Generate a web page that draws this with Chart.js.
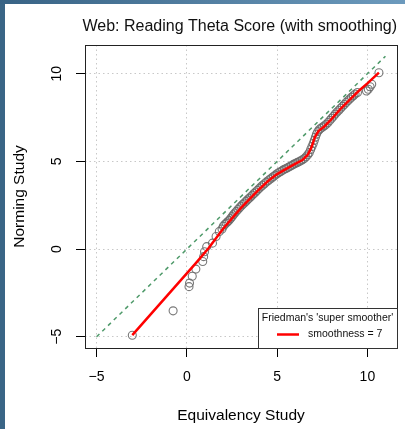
<!DOCTYPE html>
<html><head><meta charset="utf-8">
<script src="https://cdn.jsdelivr.net/npm/chart.js@4"></script>
<style>
html,body{margin:0;padding:0;background:#fff;}
#wrap{position:relative;width:405px;height:429px;overflow:hidden;background:#fff;}
#lstrip{position:absolute;left:0;top:0;width:5px;height:429px;background:#3a6586;}
#tstrip{position:absolute;left:0;top:0;width:405px;height:4px;background:linear-gradient(to right,#386385,#6c9abd);}
canvas{position:absolute;left:0;top:0;}
</style></head>
<body><div id="wrap"><div id="lstrip"></div><div id="tstrip"></div><canvas id="c" width="405" height="429"></canvas></div>
<script>
const chartTitle = 'Web: Reading Theta Score (with smoothing)';
const xAxisTitle = 'Equivalency Study';
const yAxisTitle = 'Norming Study';
const legendTitle = "Friedman's 'super smoother'";
const smoothLabel = 'smoothness = 7';
const axisMin = -5.64, axisMax = 11.64;
const xTicks = [-5, 0, 5, 10];
const yTicks = [-5, 0, 5, 10];
const xTickLabels = ['\u22125', '0', '5', '10'];
const yTickLabels = ['\u22125', '0', '5', '10'];

const equivX = [-3.02,-0.76,0.12,0.15,0.30,0.50,0.88,0.93,0.98,1.10,1.42,1.62,1.80,1.95,
2.02,2.10,2.18,2.26,2.34,2.42,2.50,2.58,2.66,2.74,2.83,2.92,3.00,3.09,3.18,3.27,3.36,3.45,3.54,3.63,3.72,3.81,3.90,
4.00,4.10,4.20,4.30,4.40,4.50,4.60,4.70,4.80,4.90,5.00,5.10,5.20,5.30,5.40,5.50,5.60,5.70,5.80,5.90,
6.00,6.10,6.20,6.30,6.40,6.50,6.60,6.70,6.78,6.86,6.93,7.00,7.06,7.12,7.18,7.25,7.33,7.42,7.52,7.62,7.72,7.82,7.92,
8.02,8.12,8.22,8.32,8.42,8.52,8.62,8.72,8.82,8.92,9.02,9.12,9.22,9.32,9.45,9.95,10.05,10.15,10.24,10.64];
const normingY = [-4.91,-3.52,-2.14,-1.94,-1.55,-1.14,-0.71,-0.43,-0.15,0.14,0.34,0.72,1.00,1.15,
1.30,1.40,1.48,1.56,1.64,1.74,1.85,1.96,2.06,2.15,2.26,2.36,2.45,2.54,2.63,2.72,2.81,2.90,2.99,3.08,3.17,3.26,3.35,
3.45,3.55,3.64,3.73,3.82,3.90,3.98,4.06,4.14,4.22,4.30,4.37,4.43,4.49,4.55,4.60,4.65,4.71,4.77,4.83,
4.88,4.93,4.98,5.03,5.09,5.16,5.26,5.38,5.50,5.68,5.85,6.02,6.20,6.38,6.55,6.70,6.81,6.89,6.96,7.03,7.12,7.22,7.34,
7.46,7.58,7.70,7.82,7.92,8.03,8.14,8.25,8.36,8.46,8.56,8.66,8.75,8.84,8.93,9.02,9.12,9.26,9.40,10.06];

const smoothX = [-3.02,0.50,1.20,2.00,2.50,3.00,3.50,4.00,4.50,5.00,5.50,6.00,6.40,6.70,6.90,7.10,7.30,7.60,8.00,8.50,9.00,9.50,10.00,10.64];
const smoothY = [-4.91,-0.80,0.05,1.15,1.75,2.35,2.88,3.40,3.88,4.28,4.58,4.86,5.08,5.38,5.80,6.40,6.75,6.98,7.40,7.98,8.50,9.00,9.45,10.06];

const refX = [-5, 11];
const refY = [-5, 11];

const FONT = '"Liberation Sans", Arial, Helvetica, sans-serif';
const toXY = (xs, ys) => xs.map((x, i) => ({x: x, y: ys[i]}));

const boxPlugin = {
  id: 'plotBox',
  beforeDatasetsDraw(chart) {
    const {ctx, chartArea: a} = chart;
    ctx.save();
    ctx.strokeStyle = '#222';
    ctx.lineWidth = 1;
    ctx.strokeRect(Math.round(a.left) + 0.5, Math.round(a.top) + 0.5, Math.round(a.right - a.left), Math.round(a.bottom - a.top));
    ctx.restore();
  }
};

const legendPlugin = {
  id: 'cornerLegend',
  afterDatasetsDraw(chart) {
    const {ctx, chartArea: a} = chart;
    const ds = chart.data.datasets[0];
    ctx.save();
    ctx.font = '10.5px ' + FONT;
    const w = 139, h = 40;
    const x0 = Math.round(a.right - w), y0 = Math.round(a.bottom - h);
    ctx.fillStyle = '#fff';
    ctx.fillRect(x0, y0, w, h);
    ctx.strokeStyle = '#333';
    ctx.lineWidth = 1;
    ctx.strokeRect(x0 + 0.5, y0 + 0.5, w, h);
    ctx.fillStyle = '#111';
    ctx.textBaseline = 'middle';
    ctx.textAlign = 'center';
    ctx.fillText(legendTitle, x0 + w / 2, y0 + 10.5);
    ctx.strokeStyle = ds.borderColor;
    ctx.lineWidth = ds.borderWidth;
    ctx.beginPath();
    ctx.moveTo(x0 + 19, y0 + 26.5);
    ctx.lineTo(x0 + 41, y0 + 26.5);
    ctx.stroke();
    ctx.textAlign = 'left';
    ctx.fillText(ds.label, x0 + 50, y0 + 26.5);
    ctx.restore();
  }
};

const tickFont = {family: FONT, size: 14, lineHeight: 1.2};
const axisTitleFont = {family: FONT, size: 15.5, lineHeight: 1.2};

new Chart(document.getElementById('c'), {
  type: 'scatter',
  data: {
    datasets: [
      {label: smoothLabel, data: toXY(smoothX, smoothY), showLine: true, borderColor: '#ff0000', borderWidth: 2.5, pointRadius: 0, fill: false, tension: 0},
      {label: 'identity', data: toXY(refX, refY), showLine: true, borderColor: '#4f9a6a', borderWidth: 1.5, borderDash: [4, 4], pointRadius: 0, fill: false},
      {label: 'quantiles', data: toXY(equivX, normingY), showLine: false, pointRadius: 4, pointBorderWidth: 1.1, pointBorderColor: 'rgba(105,105,105,0.9)', pointBackgroundColor: 'rgba(0,0,0,0)'}
    ]
  },
  options: {
    responsive: false, animation: false, devicePixelRatio: 1,
    layout: {padding: {left: 5, right: 8, top: 0, bottom: 0}},
    plugins: {
      legend: {display: false}, tooltip: {enabled: false},
      title: {display: true, text: chartTitle, align: 'end', color: '#111', font: {family: FONT, size: 16, weight: 'normal', lineHeight: 1.2}, padding: {top: 17.4, bottom: 8.4}}
    },
    scales: {
      x: {
        type: 'linear', min: axisMin, max: axisMax,
        afterBuildTicks: s => { s.ticks = xTicks.map(v => ({value: v})); },
        afterFit: s => { s.height = 81; },
        ticks: {callback: (v, i) => xTickLabels[i], color: '#000', font: tickFont, padding: 12, maxRotation: 0, autoSkip: false},
        grid: {color: '#c8c8c8', lineWidth: 1, tickLength: 9, tickColor: '#000', tickWidth: 1},
        border: {display: false, dash: [1.5, 3]},
        title: {display: true, text: xAxisTitle, color: '#000', font: axisTitleFont, padding: {top: 0, bottom: 3.7}}
      },
      y: {
        type: 'linear', min: axisMin, max: axisMax,
        afterBuildTicks: s => { s.ticks = yTicks.map(v => ({value: v})); },
        afterFit: s => { s.width = 80; },
        ticks: {callback: (v, i) => yTickLabels[i], color: '#000', font: tickFont, padding: 11, minRotation: 90, maxRotation: 90, crossAlign: 'center', autoSkip: false},
        grid: {color: '#c8c8c8', lineWidth: 1, tickLength: 9, tickColor: '#000', tickWidth: 1},
        border: {display: false, dash: [1.5, 3]},
        title: {display: true, text: yAxisTitle, color: '#000', font: axisTitleFont, padding: {top: 5.7, bottom: 0}}
      }
    }
  },
  plugins: [boxPlugin, legendPlugin]
});
</script>
</body></html>
